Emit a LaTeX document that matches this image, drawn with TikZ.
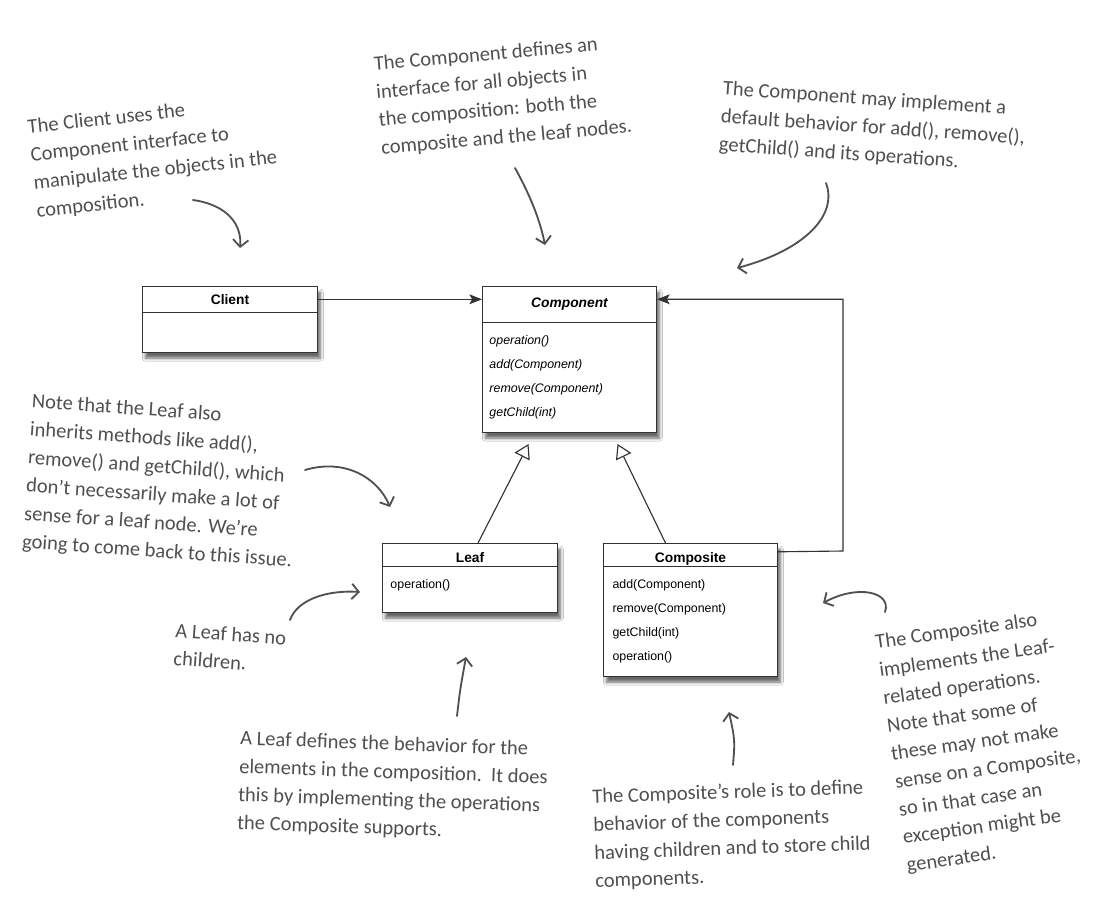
\documentclass[tikz,border=0pt]{standalone}
\usepackage{fontspec}
\setmainfont{Liberation Sans}
\newfontfamily\handfont{Carlito}
\usetikzlibrary{calc, shapes, arrows.meta, positioning, shadows.blur}
\definecolor{notegray}{RGB}{80,80,80}
\definecolor{umlline}{RGB}{50,50,50}
\tikzset{
	umlbox/.style={draw=umlline, line width=.7pt, fill=white, anchor=north west, inner sep=0pt,
		blur shadow={shadow xshift=2pt, shadow yshift=-4pt, shadow blur steps=6, shadow opacity=60}},
	umlhead/.style={font=\fontsize{9.8}{11}\selectfont\bfseries, anchor=north, inner sep=0pt},
	umlops/.style={font=\fontsize{8.8}{17}\selectfont, align=left, anchor=north west, inner sep=0pt},
	note/.style={font=\handfont\fontsize{14.6}{20}\selectfont, text=notegray, align=left, inner sep=0pt},
	hint/.style={draw=notegray, line width=1.3pt, line cap=round, -{Straight Barb[length=5pt, width=11pt]}},
	assoc/.style={draw=umlline, line width=.8pt, -{Stealth[length=9pt, width=7pt, inset=2pt]}},
	inherit/.style={draw=umlline, line width=.8pt, -{Triangle[open, length=10pt, width=12pt, fill=white]}}
}

\begin{document}
\begin{tikzpicture}[x=0.025cm, y=-0.025cm]
	\fill[white] (0,0) rectangle (1096,904);
	\useasboundingbox (0,0) rectangle (1096,904);

	% class boxes
	\node[umlbox, minimum width=4.375cm, minimum height=1.65cm] (client) at (142,286) {};
	\node[umlhead, minimum width=4.375cm, minimum height=0.65cm] (clienthead) at (client.north) {Client};
	\draw[umlline, line width=.7pt] (clienthead.south west) -- (clienthead.south east);

	\node[umlbox, minimum width=4.35cm, minimum height=3.65cm] (compo) at (482,286) {};
	\node[umlhead, minimum width=4.35cm, minimum height=0.9cm] (compohead) at (compo.north) {\itshape Component};
	\draw[umlline, line width=.7pt] (compohead.south west) -- (compohead.south east);
	\node[umlops, font=\fontsize{8.8}{17}\selectfont\itshape] (compoops) at ([shift={(7,13)}]compohead.south west)
		{operation()\\add(Component)\\remove(Component)\\getChild(int)};

	\node[umlbox, minimum width=4.375cm, minimum height=1.725cm] (leaf) at (382,543) {};
	\node[umlhead, minimum width=4.375cm, minimum height=0.575cm, text height=11pt, text depth=0pt] (leafhead) at (leaf.north) {Leaf};
	\draw[umlline, line width=.7pt] (leafhead.south west) -- (leafhead.south east);
	\node[umlops] (leafops) at ([shift={(8,13)}]leafhead.south west) {operation()};

	\node[umlbox, minimum width=4.35cm, minimum height=3.325cm] (composite) at (603,543) {};
	\node[umlhead, minimum width=4.35cm, minimum height=0.575cm, text height=11pt, text depth=0pt] (comphead) at (composite.north) {Composite};
	\draw[umlline, line width=.7pt] (comphead.south west) -- (comphead.south east);
	\node[umlops] (compops) at ([shift={(9,13)}]comphead.south west)
		{add(Component)\\remove(Component)\\getChild(int)\\operation()};

	% relations
	\coordinate (rail) at (843,551);
	\draw[assoc] (clienthead.east) -- (clienthead.east -| compo.west);
	\draw[assoc] ([shift={(0,-3)}]comphead.east) -- (rail) |- (clienthead.east -| compo.east);
	\draw[inherit] ([xshift=0.2cm]leaf.north) -- ([shift={(-41,11)}]compo.south);
	\draw[inherit] ([xshift=-0.625cm]composite.north) -- ([shift={(48,11)}]compo.south);

	% notes
	\node[note, rotate=6] (clientnote) at (154,157)
		{The Client uses the\\Component interface to\\manipulate the objects in the\\composition.};
	\node[note, rotate=5] (componote) at (503,96)
		{The Component defines an\\interface for all objects in\\the composition: both the\\composite and the leaf nodes.};
	\node[note, rotate=-4] (defaultnote) at (873,128)
		{The Component may implement a\\default behavior for add(), remove(),\\getChild() and its operations.};
	\node[note, rotate=-4] (inheritnote) at (162,482)
		{Note that the Leaf also\\inherits methods like add(),\\remove() and getChild(), which\\don’t necessarily make a lot of\\sense for a leaf node. We’re\\going to come back to this issue.};
	\node[note, rotate=-4] (childnote) at (230,648) {A Leaf has no\\children.};
	\node[note, rotate=-2] (leafnote) at (393,787)
		{A Leaf defines the behavior for the\\elements in the composition.\ \ It does\\this by implementing the operations\\the Composite supports.};
	\node[note, rotate=2] (rolenote) at (732,835)
		{The Composite’s role is to define\\behavior of the components\\having children and to store child\\components.};
	\node[note, rotate=8] (compnote) at (984,742)
		{The Composite also\\implements the Leaf-\\related operations.\\Note that some of\\these may not make\\sense on a Composite,\\so in that case an\\exception might be\\generated.};

	% note arrows
	\coordinate (clienttail) at (193,200);  \coordinate (clienttip) at (240,248);
	\coordinate (compotail) at (515,168);   \coordinate (compotip) at (545,245);
	\coordinate (defaulttail) at (826,183); \coordinate (defaulttip) at (737,268);
	\coordinate (inherittail) at (305,470); \coordinate (inherittip) at (390,507);
	\coordinate (childtail) at (290,620);   \coordinate (childtip) at (360,592);
	\coordinate (leaftail) at (457,716);    \coordinate (leaftip) at (466,657);
	\coordinate (roletail) at (733,765);    \coordinate (roletip) at (729,712);
	\coordinate (comptail) at (885,612);    \coordinate (comptip) at (823,603);
	\draw[hint] (clienttail) .. controls (228,205) and (242,225) .. (clienttip);
	\draw[hint] (compotail) .. controls (530,195) and (540,220) .. (compotip);
	\draw[hint] (defaulttail) .. controls (838,215) and (805,250) .. (defaulttip);
	\draw[hint] (inherittail) .. controls (345,458) and (378,478) .. (inherittip);
	\draw[hint] (childtail) .. controls (298,598) and (330,590) .. (childtip);
	\draw[hint] (leaftail) .. controls (460,690) .. (leaftip);
	\draw[hint] (roletail) .. controls (735,740) .. (roletip);
	\draw[hint] (comptail) .. controls (892,592) and (858,584) .. (comptip);
\end{tikzpicture}
\end{document}
